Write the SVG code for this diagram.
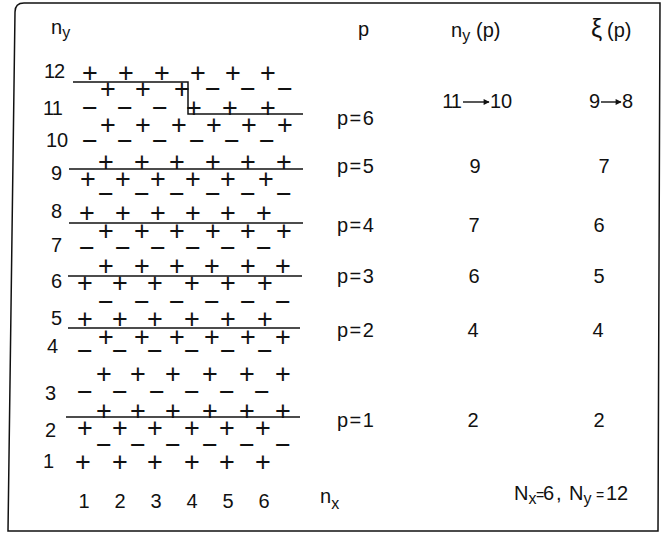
<svg xmlns="http://www.w3.org/2000/svg" width="665" height="533" viewBox="0 0 665 533">
<style>
text{font-family:"Liberation Sans",Arial,sans-serif;fill:#111}
.s{font-size:27px;text-anchor:middle}
.lb{font-size:20px}
.v{font-size:20px;text-anchor:middle}
.sub{font-size:16px}
.ln{fill:none;stroke:#111;stroke-width:1.5}
.ar{fill:none;stroke:#111;stroke-width:1.4;marker-end:url(#ah)}
</style>
<defs>
<marker id="ah" viewBox="0 0 10 10" refX="9" refY="5" markerWidth="7" markerHeight="6" markerUnits="userSpaceOnUse" orient="auto"><path d="M0 0 L10 5 L0 10 Z" fill="#111"/></marker>
</defs>
<rect width="665" height="533" fill="#fff"/>
<path id="frame" class="ln" d="M24 3 L660 3 L658 531 L8 531 L15 12 Q15 3 24 3 Z"/>

<g id="headers">
<text class="lb" x="51" y="34">n<tspan class="sub" dy="4">y</tspan></text>
<text class="lb" x="358" y="36">p</text>
<text class="lb" x="451" y="37">n<tspan class="sub" dy="4">y</tspan><tspan dy="-4" x="476">(p)</tspan></text>
<text x="591" y="37" style="font-size:25px">ξ</text>
<text class="lb" x="607" y="37">(p)</text>
</g>

<g id="row-labels" class="lb">
<text x="44" y="78" style="letter-spacing:-1px">12</text>
<text x="43" y="115" style="letter-spacing:-1px">11</text>
<text x="46" y="147">10</text>
<text x="51" y="180">9</text>
<text x="51" y="218">8</text>
<text x="51" y="252">7</text>
<text x="51" y="288">6</text>
<text x="51" y="325">5</text>
<text x="47" y="353">4</text>
<text x="45" y="400">3</text>
<text x="45" y="437">2</text>
<text x="43" y="468">1</text>
</g>

<g id="lattice">
<text class="s" x="90 126 162 198 233 268" y="81.7">++++++</text>
<text class="s" x="108 143 182 213 248 285" y="97.7">+++−−−</text>
<text class="s" x="90 125 160 194 230 268" y="116.7">−−−+++</text>
<text class="s" x="108 143 179 214 249 285" y="133.7">++++++</text>
<text class="s" x="90 125 160 197 232 267" y="149.7">−−−−−−</text>
<text class="s" x="106 142 177 213 248 284" y="170.7">++++++</text>
<text class="s" x="88 123 158 193 228 266" y="187.7">++++++</text>
<text class="s" x="106 142 177 213 248 284" y="202.7">−−−−−−</text>
<text class="s" x="87 123 158 193 228 264" y="221.7">++++++</text>
<text class="s" x="106 142 177 213 248 284" y="239.7">++++++</text>
<text class="s" x="87 123 158 193 228 264" y="256.7">−−−−−−</text>
<text class="s" x="106 142 177 212 248 283" y="274.7">++++++</text>
<text class="s" x="85 120 155 192 228 265" y="291.7">++++++</text>
<text class="s" x="106 142 177 212 248 283" y="310.7">−−−−−−</text>
<text class="s" x="85 120 155 192 228 265" y="327.7">++++++</text>
<text class="s" x="106 142 177 212 248 283" y="345.7">++++++</text>
<text class="s" x="85 120 155 192 228 265" y="359.7">−−−−−−</text>
<text class="s" x="104 138 173 210 247 283" y="382.7">++++++</text>
<text class="s" x="85 120 157 192 227 262" y="400.7">−−−−−−</text>
<text class="s" x="104 138 173 210 247 283" y="419.7">++++++</text>
<text class="s" x="85 120 155 192 227 263" y="436.7">++++++</text>
<text class="s" x="104 138 173 210 247 283" y="453.7">−−−−−−</text>
<text class="s" x="83 120 155 192 227 263" y="470.7">++++++</text>
</g>

<g id="connectors">
<path id="cut-p6" class="ln" d="M73 82 H188 V114 H303"/>
<path id="cut-p5" class="ln" d="M69 169 H303"/>
<path id="cut-p4" class="ln" d="M69 223 H303"/>
<path id="cut-p3" class="ln" d="M68 276 H302"/>
<path id="cut-p2" class="ln" d="M68 328 H300"/>
<path id="cut-p1" class="ln" d="M66 417 H300"/>
<path class="ar" d="M463 102 H489"/>
<path class="ar" d="M601 102 H621"/>
</g>

<g id="p-column" class="lb" style="letter-spacing:1.5px">
<text x="337" y="125">p=6</text>
<text x="337" y="173">p=5</text>
<text x="337" y="232">p=4</text>
<text x="337" y="283">p=3</text>
<text x="337" y="337">p=2</text>
<text x="337" y="427">p=1</text>
</g>

<g id="ny-column">
<text class="lb" x="461" y="108" style="text-anchor:end;letter-spacing:-1px">11</text>
<text class="lb" x="490" y="108">10</text>
<text class="v" x="475" y="173">9</text>
<text class="v" x="474" y="232">7</text>
<text class="v" x="474" y="283">6</text>
<text class="v" x="473" y="337">4</text>
<text class="v" x="473" y="427">2</text>
</g>

<g id="xi-column">
<text class="lb" x="589" y="108">9</text>
<text class="lb" x="622" y="108">8</text>
<text class="v" x="604" y="173">7</text>
<text class="v" x="599" y="232">6</text>
<text class="v" x="599" y="283">5</text>
<text class="v" x="598" y="337">4</text>
<text class="v" x="599" y="427">2</text>
</g>

<g id="nx-axis">
<text class="v" x="84 120 156 192 228 264" y="508">123456</text>
<text class="lb" x="320" y="503">n<tspan class="sub" dy="6">x</tspan></text>
</g>

<g id="sizes" class="lb">
<text x="514" y="500">N<tspan class="sub" dy="4">x</tspan><tspan dy="-4" x="536" style="font-size:14px">=</tspan><tspan x="543">6</tspan><tspan x="556">,</tspan><tspan x="569">N</tspan><tspan class="sub" dy="4">y</tspan><tspan dy="-4" x="596" style="font-size:14px">=</tspan><tspan x="606">12</tspan></text>
</g>
</svg>
